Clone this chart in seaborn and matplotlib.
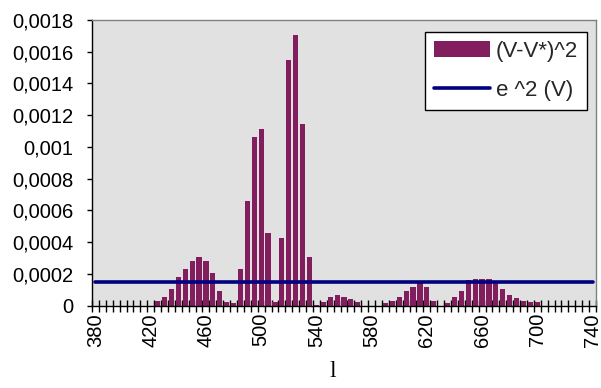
import matplotlib
matplotlib.use("Agg")
import matplotlib.pyplot as plt
import pandas as pd
import seaborn as sns

# Wavelength categories (nm)
wavelengths = [
    380, 385, 390, 395, 400, 405, 410, 415, 420, 425,
    430, 435, 440, 445, 450, 455, 460, 465, 470, 475,
    480, 485, 490, 495, 500, 505, 510, 515, 520, 525,
    530, 535, 540, 545, 550, 555, 560, 565, 570, 575,
    580, 585, 590, 595, 600, 605, 610, 615, 620, 625,
    630, 635, 640, 645, 650, 655, 660, 665, 670, 675,
    680, 685, 690, 695, 700, 705, 710, 715, 720, 725,
    730, 735, 740,
]

# Squared deviation (V - V*)^2 per wavelength
diff_sq = [
    0, 0, 0, 0, 0, 0, 0, 0, 0, 0.000032,
    0.000056, 0.000104, 0.000181, 0.000233, 0.000281, 0.000306, 0.000281, 0.000205, 0.000092, 0.000022,
    0.000019, 0.000234, 0.00066, 0.001065, 0.001111, 0.00046, 0.000021, 0.000425, 0.001546, 0.001705,
    0.001143, 0.000305, 0.000003, 0.000021, 0.000057, 0.000068, 0.000057, 0.000043, 0.000022, 0,
    0, 0, 0.00002, 0.000032, 0.000057, 0.000092, 0.00012, 0.000143, 0.00012, 0.000032,
    0, 0.00002, 0.000057, 0.000092, 0.00016, 0.000168, 0.000168, 0.000168, 0.000151, 0.000105,
    0.000067, 0.000046, 0.000032, 0.000021, 0.000021, 0, 0, 0, 0, 0,
    0, 0, 0,
]

# Error level e^2(V)
e2_level = 0.00015

x_tick_values = [380, 420, 460, 500, 540, 580, 620, 660, 700, 740]
x_tick_labels = ["380", "420", "460", "500", "540", "580", "620", "660", "700", "740"]
y_tick_values = [0, 0.0002, 0.0004, 0.0006, 0.0008, 0.001, 0.0012, 0.0014, 0.0016, 0.0018]
y_tick_labels = ["0", "0,0002", "0,0004", "0,0006", "0,0008", "0,001",
                 "0,0012", "0,0014", "0,0016", "0,0018"]

sns.set_theme(style="white")
plt.rcParams["font.family"] = ["Liberation Sans", "DejaVu Sans"]

FS = 14.5
W, H = 601, 388
fig = plt.figure(figsize=(W / 100, H / 100), dpi=100)
ax = fig.add_axes([92 / W, (H - 305.7) / H, 504 / W, 285.7 / H])
ax.set_facecolor("#E1E1E1")

bars = pd.DataFrame({"wl": wavelengths, "v": diff_sq})
sns.barplot(data=bars, x="wl", y="v", native_scale=True, color="#821D5E",
            saturation=1, width=0.75, errorbar=None, linewidth=0,
            label="(V-V*)^2", ax=ax)

level = pd.DataFrame({"wl": [wavelengths[0], wavelengths[-1]],
                      "e2": [e2_level, e2_level]})
sns.lineplot(data=level, x="wl", y="e2", color="#000080", linewidth=2.6,
             label="e ^2 (V)", ax=ax, zorder=5)

half = (wavelengths[1] - wavelengths[0]) / 2
ax.set_xlim(wavelengths[0] - half, wavelengths[-1] + half)
ax.set_ylim(y_tick_values[0], y_tick_values[-1])

ax.set_yticks(y_tick_values)
ax.set_yticklabels(y_tick_labels)
ax.tick_params(axis="y", direction="out", length=3.6, width=1, color="black",
               pad=10, labelsize=FS, labelcolor="black", left=True)

ax.set_xticks(x_tick_values)
ax.set_xticklabels(x_tick_labels, rotation=90)
ax.set_xticks([w - half for w in wavelengths] + [wavelengths[-1] + half], minor=True)
ax.tick_params(axis="x", which="major", length=0, pad=5.3, labelsize=FS,
               labelcolor="black", bottom=True)
ax.tick_params(axis="x", which="minor", direction="inout", length=8.6, width=1,
               color="black", bottom=True)

for side in ("left", "bottom"):
    ax.spines[side].set_color("black")
    ax.spines[side].set_linewidth(1.0)
for side in ("top", "right"):
    ax.spines[side].set_color("#808080")
    ax.spines[side].set_linewidth(1.0)

ax.set_ylabel("")
ax.set_xlabel("l", fontfamily=["Liberation Serif", "DejaVu Serif"], fontsize=17,
              color="black")
ax.xaxis.set_label_coords(0.477, -0.195)

handles, labels = ax.get_legend_handles_labels()
order = [labels.index("(V-V*)^2"), labels.index("e ^2 (V)")]
leg = ax.legend([handles[i] for i in order], [labels[i] for i in order],
                loc="upper right", bbox_to_anchor=(0.9816, 0.957), borderaxespad=0,
                frameon=True, fancybox=False, shadow=False, facecolor="white",
                edgecolor="black", framealpha=1, fontsize=16,
                handlelength=2.52, handleheight=0.72, handletextpad=0.27,
                labelspacing=0.8, borderpad=0.4)
leg.get_frame().set_linewidth(1.0)

fig.savefig("out.png", dpi=100)
